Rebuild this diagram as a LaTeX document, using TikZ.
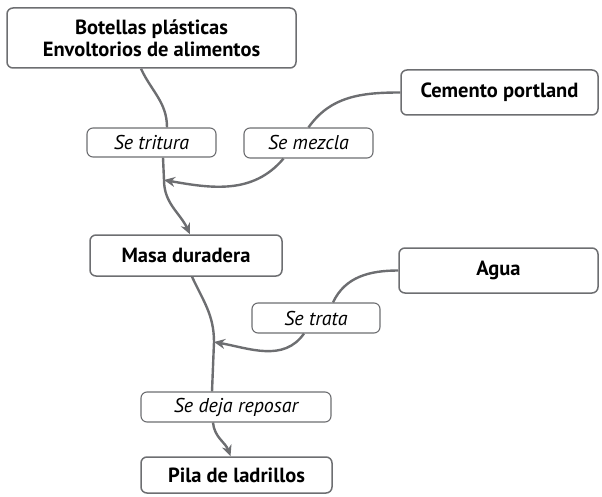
\documentclass[tikz,border=0pt]{standalone}
\usepackage{fontspec}
\setmainfont{PT Sans}
\usetikzlibrary{arrows.meta}
\definecolor{gris}{HTML}{6D6E71}
\begin{document}
\begin{tikzpicture}[x=1pt, y=1pt,
                concepto/.style={draw=gris, line width=1.5pt, rounded corners=6pt, inner sep=0pt,
                    align=center, font=\fontsize{20.5}{22}\selectfont\bfseries},
                verbo/.style={draw=gris, line width=1.1pt, rounded corners=6pt, inner sep=0pt,
                    fill=white, font=\fontsize{20}{22}\selectfont\itshape},
                enlace/.style={draw=gris, line width=2.4pt},
                flecha/.style={enlace, -{Stealth[length=11pt, width=10pt]}}]
                \useasboundingbox (0, 0) rectangle (602, -497);
                \node[concepto, minimum width=289, minimum height=60] (botellas) at (151.5, -38)
                    {Botellas plásticas\\Envoltorios de alimentos};
                \node[concepto, minimum width=197, minimum height=45] (cemento) at (499.5, -92.5) {Cemento portland};
                \node[verbo, minimum width=129, minimum height=29] (tritura) at (151.5, -142.5) {Se tritura};
                \node[verbo, minimum width=129, minimum height=30] (mezcla) at (308.5, -143) {Se mezcla};
                \node[concepto, minimum width=192, minimum height=41] (masa) at (186, -255.5) {Masa duradera};
                \node[concepto, minimum width=199, minimum height=45] (agua) at (498.5, -270.5) {Agua};
                \node[verbo, minimum width=128, minimum height=30] (trata) at (316, -318) {Se trata};
                \node[verbo, minimum width=190, minimum height=30] (reposar) at (236, -407) {Se deja reposar};
                \node[concepto, minimum width=191, minimum height=36] (pila) at (236.5, -475) {Pila de ladrillos};
                \coordinate (union1) at (164, -180);
                \coordinate (union2) at (214, -342);
                \draw[enlace] ([xshift=-10.5pt]botellas.south) to[out=-65, in=90] ([xshift=15.5pt]tritura.north);
                \draw[enlace] (cemento.west) to[out=180, in=55] ([xshift=0pt]mezcla.north);
                \draw[flecha] ([xshift=-25pt]mezcla.south) to[out=-130, in=-10] (union1);
                \draw[flecha] ([xshift=11.5pt]tritura.south) -- (union1) to[out=-90, in=115] ([xshift=4pt]masa.north);
                \draw[enlace] (agua.west) to[out=180, in=65] ([xshift=17pt]trata.north);
                \draw[flecha] ([xshift=-12pt]trata.south) to[out=-125, in=-10] (union2);
                \draw[enlace] ([xshift=6pt]masa.south) to[out=-65, in=90] (union2) -- ([xshift=-24pt]reposar.north);
                \draw[flecha] ([xshift=-23pt]reposar.south) to[out=-85, in=110] ([xshift=-6pt]pila.north);
            \end{tikzpicture}
\end{document}
